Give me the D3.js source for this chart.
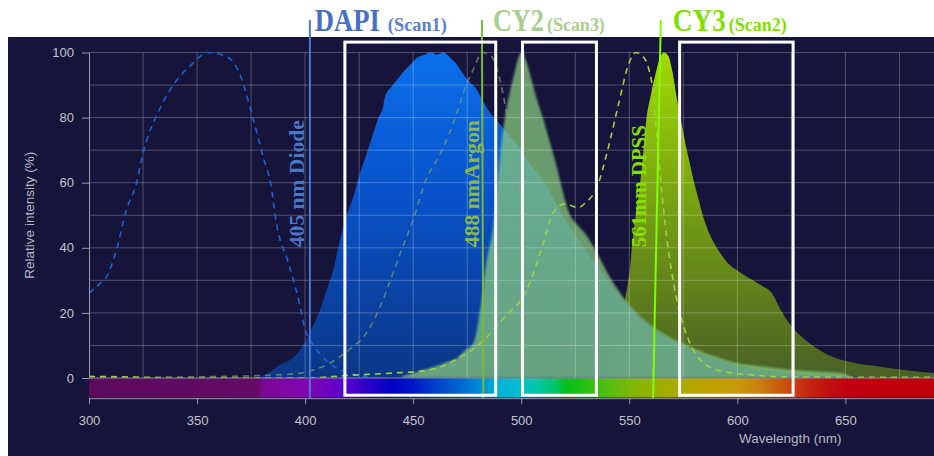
<!DOCTYPE html>
<html>
<head>
<meta charset="utf-8">
<script src="https://cdn.jsdelivr.net/npm/d3@7"></script>
<style>
  body { margin: 0; background: #fff; }
  svg { display: block; }
  .tick text { font-family: "Liberation Sans", Arial, sans-serif; font-size: 13px; fill: #c4c4cc; }
  .axis path, .axis line { stroke: #9a9aa6; }
</style>
</head>
<body>
<div id="chart"></div>
<script>
// ---- data ----
// DAPI excitation (dashed)
const dapiExWl  = [300, 305, 308, 313, 317, 322, 325, 333, 340, 347, 355, 364, 370, 375, 381, 384, 387, 392, 397, 400, 404, 411, 416, 421, 426, 432];
const dapiExVal = [26, 29, 31, 40, 51, 60, 69, 83, 91, 96, 100, 98.6, 93, 82, 67, 60, 46.5, 36, 24, 15, 10, 4.6, 2.6, 1.4, 0.6, 0.2];

// DAPI emission (filled)
const dapiEmWl  = [378, 383, 388, 393, 398, 403, 407, 410, 413, 416, 419, 422, 425, 428, 431, 434, 436, 437, 440, 443, 446, 449, 452, 455, 458, 461, 464, 467, 470, 473, 476, 479, 482, 485, 490, 495, 500, 505, 510, 515, 520, 525, 530, 540, 550, 560, 575, 600, 625, 650, 665];
const dapiEmVal = [0, 1.5, 4, 5.5, 9, 15, 21, 27, 33, 42, 49.5, 55, 62, 68, 74, 80, 83, 86.5, 89.5, 92, 94.5, 96.5, 98.5, 99.2, 100, 99.4, 100, 98.5, 96.5, 93.5, 91, 89, 85.5, 82, 78, 74, 70, 65, 61, 55, 49, 44, 39, 30, 22, 16, 10, 4, 1.5, 0.5, 0];

// CY2 excitation (dashed)
const cy2ExWl  = [300, 340, 380, 398, 404, 410, 416, 421, 427, 432, 436, 440, 445, 450, 456, 461, 466, 470, 474, 478, 482, 486, 490, 493, 496, 499, 502, 505, 508, 512, 516, 520];
const cy2ExVal = [0.2, 0.3, 0.8, 1.5, 2.5, 4, 6.5, 9, 12.6, 18, 24, 31, 40, 48.6, 61, 67, 74, 81, 89, 95, 100, 99, 92, 82, 68, 50, 33, 22, 10, 2.5, 0.8, 0.3];

// CY2 emission (filled)
const cy2EmWl  = [445, 450, 455, 460, 465, 470, 474, 478, 481, 484, 487, 489, 491, 493, 495, 497, 499, 500.5, 502, 505, 508, 510, 513, 516, 519, 522, 526, 530, 535, 541, 547, 555, 565, 575, 590, 600, 612, 625, 637, 648, 653];
const cy2EmVal = [0.5, 1.5, 2.5, 3.5, 4.8, 6, 8.5, 11, 21, 36, 46.5, 60, 73, 82, 88.6, 94, 99, 100, 98, 91, 84, 80, 73, 66, 58, 51, 47, 44, 38.5, 31, 25, 19, 14, 10.5, 6.5, 4.6, 3.5, 2.5, 2, 1.5, 0];

// CY3 excitation (dashed)
const cy3ExWl  = [300, 320, 335, 400, 420, 440, 455, 465, 472, 478, 484, 490, 495, 500, 505, 510, 515, 520, 523, 526, 530, 535, 540, 545, 550, 553, 556, 559, 561, 563, 567, 572, 578, 583, 587, 595, 606, 615, 625, 691];
const cy3ExVal = [0.5, 0.3, 0, 0, 0.8, 1.5, 2.2, 4, 6.5, 9, 12.5, 17, 20.5, 24, 31, 41, 51, 53.5, 53, 52.3, 54, 58.5, 70, 84, 97, 100, 99, 95, 88, 72, 45, 24, 10.8, 5.5, 3.4, 1.8, 1, 0.5, 0.3, 0.2];

// CY3 emission (filled)
const cy3EmWl  = [538, 542, 545, 548, 550, 552, 554, 556, 558, 560, 562, 564, 566, 568, 570, 572, 574, 576, 578, 580, 582, 584, 588, 592, 596, 601, 606, 611, 616, 620, 625, 630, 637, 644, 655, 667, 680, 691];
const cy3EmVal = [0, 5, 12, 24, 32, 45, 54, 66, 80, 87, 93, 98, 100, 99, 94, 86, 79, 72, 66, 60, 55, 50, 43, 38.5, 35, 32.6, 30.5, 28.5, 26, 21, 16, 12.5, 9, 6.5, 4.5, 3.4, 2.2, 1.5];

// visible spectrum strip under the plot
const specWl    = [300, 378, 381, 400, 418, 428, 440, 450, 460, 470, 480, 490, 500, 507, 515, 521, 535, 550, 562, 575, 590, 600, 610, 620, 630, 640, 652, 691];
const specColor = ["#5c0a5e", "#660a66", "#7a0896", "#8404b0", "#5a00d0", "#3000cc", "#0000c4", "#0018c8", "#0040cc", "#0060d0", "#0088d4", "#00b4d2", "#00c0d0", "#00c8a4", "#00c470", "#00c018", "#40c010", "#7ab808", "#98b000", "#b0a800", "#c0a000", "#c8980a", "#c88010", "#c85810", "#c83010", "#c01410", "#c00010", "#c0000c"];

// lasers (top / bottom wavelength of the drawn line)
const laserNames  = ["405 nm Diode", "488 nmArgon", "561mm DPSS"];
const laserTopWl  = [402.2, 481.8, 564.6];
const laserBotWl  = [402.2, 482.5, 561];
const laserColors = ["#4a78d0", "#7ab83a", "#80ff00"];
const laserText   = ["#4a78c8", "#8cb84c", "#86e000"];

// dye titles
const dyeNames   = ["DAPI", "CY2", "CY3"];
const scanNames  = ["(Scan1)", "(Scan3)", "(Scan2)"];
const dyeColors  = ["#4670c6", "#a8cf8c", "#80e000"];
const scanColors = ["#5a7fce", "#a8cf8c", "#80e000"];

// emission filter windows
const filterLo = [418.4, 500.6, 573.3];
const filterHi = [488.2, 534.8, 625.8];

// axis ticks
const xTicks = [300, 350, 400, 450, 500, 550, 600, 650];
const yTicks = [0, 20, 40, 60, 80, 100];

// ---- layout ----
const W = 934, H = 456;

var svg = d3.select("#chart")
    .append("svg")
    .attr("width", W)
    .attr("height", H);

// dark panel
svg.append("rect")
    .attr("x", 8).attr("y", 37)
    .attr("width", W - 8).attr("height", H - 37)
    .attr("fill", "#16143a");

const x = d3.scaleLinear().domain([300, 691]).range([89, 934]);
const y = d3.scaleLinear().domain([0, 100]).range([378, 52.5]);

const defs = svg.append("defs");

// gradients
function vGrad(id, stops) {
    var g = defs.append("linearGradient")
        .attr("id", id)
        .attr("gradientUnits", "userSpaceOnUse")
        .attr("x1", 0).attr("x2", 0)
        .attr("y1", y(100)).attr("y2", y(0));
    stops.forEach(function(s) {
        g.append("stop").attr("offset", s[0]).attr("stop-color", s[1]);
    });
}
vGrad("dapiGrad", [[0, "#0a7aff"], [0.45, "#0658d8"], [1, "#0a3a8e"]]);
vGrad("cy3Grad", [[0, "#a8e400"], [0.5, "#78a412"], [1, "#4c6424"]]);

var sg = defs.append("linearGradient")
    .attr("id", "specGrad")
    .attr("gradientUnits", "userSpaceOnUse")
    .attr("x1", x(300)).attr("x2", x(691))
    .attr("y1", 0).attr("y2", 0);
specWl.forEach(function(w, i) {
    sg.append("stop")
        .attr("offset", (w - 300) / (691 - 300))
        .attr("stop-color", specColor[i]);
});

defs.append("filter").attr("id", "soft")
    .append("feGaussianBlur").attr("stdDeviation", 0.9);

const toPts = (wl, v) => wl.map((w, i) => ({wl: w, v: v[i]}));

var area = d3.area()
    .x(d => x(d.wl))
    .y0(y(0))
    .y1(d => y(d.v))
    .curve(d3.curveMonotoneX);

var line = d3.line()
    .x(d => x(d.wl))
    .y(d => y(d.v))
    .curve(d3.curveMonotoneX);

// emission areas
svg.append("path")
    .datum(toPts(cy3EmWl, cy3EmVal))
    .attr("fill", "url(#cy3Grad)")
    .attr("opacity", 0.95)
    .attr("d", area);

svg.append("path")
    .datum(toPts(dapiEmWl, dapiEmVal))
    .attr("fill", "url(#dapiGrad)")
    .attr("opacity", 0.9)
    .attr("d", area);

svg.append("path")
    .datum(toPts(cy2EmWl, cy2EmVal))
    .attr("fill", "#86c87e")
    .attr("opacity", 0.75)
    .attr("filter", "url(#soft)")
    .attr("d", area);

// grid
var grid = svg.append("g").attr("stroke", "#fff").attr("stroke-opacity", 0.26);
grid.selectAll("line.h")
    .data(d3.range(10, 101, 10))
    .enter().append("line")
    .attr("x1", x(300)).attr("x2", x(691))
    .attr("y1", d => y(d)).attr("y2", d => y(d));
grid.selectAll("line.v")
    .data(d3.range(325, 691, 25))
    .enter().append("line")
    .attr("x1", d => x(d)).attr("x2", d => x(d))
    .attr("y1", y(0)).attr("y2", y(100));

// excitation lines
svg.append("path")
    .datum(toPts(dapiExWl, dapiExVal))
    .attr("fill", "none").attr("stroke", "#1c62d8")
    .attr("stroke-width", 1.6).attr("stroke-dasharray", "6,5")
    .attr("d", line);

svg.append("path")
    .datum(toPts(cy2ExWl, cy2ExVal))
    .attr("fill", "none").attr("stroke", "#7fa066")
    .attr("stroke-opacity", 0.7)
    .attr("stroke-width", 1.6).attr("stroke-dasharray", "6,5")
    .attr("d", line);

svg.append("path")
    .datum(toPts(cy3ExWl, cy3ExVal))
    .attr("fill", "none").attr("stroke", "#a4d040")
    .attr("stroke-width", 1.6).attr("stroke-dasharray", "6,5")
    .attr("d", line);

// spectrum strip
svg.append("rect")
    .attr("x", x(300)).attr("width", x(691) - x(300))
    .attr("y", y(0)).attr("height", y(-6) - y(0))
    .attr("fill", "url(#specGrad)");

// zero line
svg.append("line")
    .attr("x1", x(300)).attr("x2", x(691))
    .attr("y1", y(0)).attr("y2", y(0))
    .attr("stroke", "#8a8a9a");

// axes
svg.append("g")
    .attr("class", "axis")
    .attr("transform", "translate(" + x(300) + ",0)")
    .call(d3.axisLeft(y).tickValues(yTicks).tickSize(7).tickPadding(8).tickSizeOuter(0));

svg.append("g")
    .attr("class", "axis")
    .attr("transform", "translate(0," + y(-6.2) + ")")
    .call(d3.axisBottom(x).tickValues(xTicks).tickSize(6).tickPadding(12).tickSizeOuter(0));

svg.selectAll(".axis .domain").attr("stroke", "#9a9aa6");

// axis titles
svg.append("text")
    .attr("transform", "translate(34," + y(50) + ") rotate(-90)")
    .attr("text-anchor", "middle")
    .attr("font-family", "Liberation Sans, Arial, sans-serif")
    .attr("font-size", 13.5)
    .attr("fill", "#b8b8c2")
    .text("Relative intensity (%)");

svg.append("text")
    .attr("x", x(650) - 4)
    .attr("y", 443)
    .attr("text-anchor", "end")
    .attr("font-family", "Liberation Sans, Arial, sans-serif")
    .attr("font-size", 13.5)
    .attr("fill", "#b8b8c2")
    .text("Wavelength (nm)");

// laser lines
laserNames.forEach(function(name, i) {
    svg.append("line")
        .attr("x1", x(laserTopWl[i])).attr("x2", x(laserBotWl[i]))
        .attr("y1", y(110)).attr("y2", y(-6.2))
        .attr("stroke", laserColors[i])
        .attr("stroke-width", 2);
});

// filter boxes
filterLo.forEach(function(lo, i) {
    svg.append("rect")
        .attr("x", x(lo)).attr("width", x(filterHi[i]) - x(lo))
        .attr("y", y(103.2)).attr("height", y(-5.3) - y(103.2))
        .attr("fill", "none")
        .attr("stroke", "#fff")
        .attr("stroke-width", 3);
});

// serif label squeezed horizontally to a target width
function serifText(tx, ty, rot, size, color, str, len) {
    var t = svg.append("text")
        .attr("font-family", "Liberation Serif, Times New Roman, serif")
        .attr("font-weight", "bold")
        .attr("font-size", size)
        .attr("fill", color)
        .text(str);
    var sx = len / t.node().getComputedTextLength();
    t.attr("transform", "translate(" + tx + "," + ty + ") rotate(" + rot + ") scale(" + sx + ",1)");
    return t;
}

// laser labels (vertical)
const laserLen = [127, 127, 122];
const laserOff = [-6, -4, -7];
laserNames.forEach(function(name, i) {
    serifText(x(laserBotWl[i]) + laserOff[i], y(40.2), -90, 21, laserText[i], name, laserLen[i]);
});

// dye titles
const dyeOff = [5, 11, 12];
const dyeLen = [65, 51, 53];
const scanLen = [59, 58, 58];
dyeNames.forEach(function(name, i) {
    var x0 = x(laserTopWl[i]) + dyeOff[i];
    serifText(x0, 31, 0, 31, dyeColors[i], name, dyeLen[i]);
    serifText(x0 + dyeLen[i] + (i == 0 ? 8 : 3), 31, 0, 19, scanColors[i], scanNames[i], scanLen[i]);
});
</script>
</body>
</html>
